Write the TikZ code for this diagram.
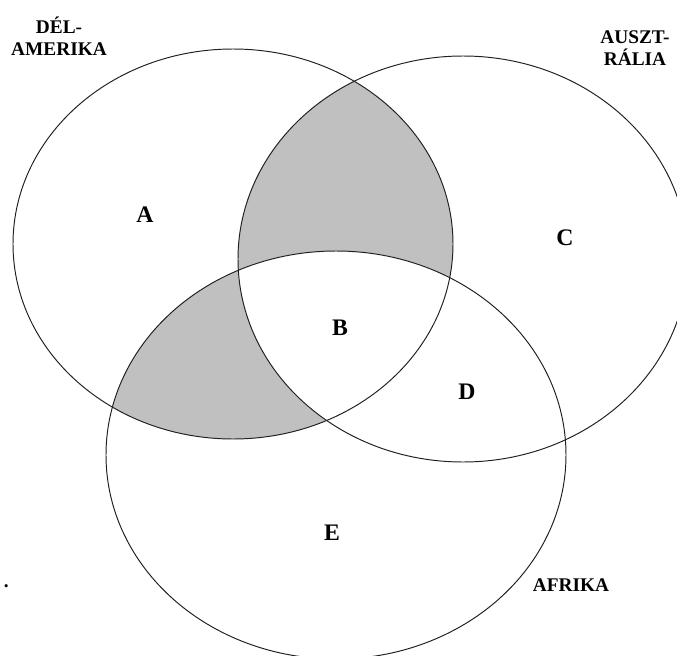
\documentclass[tikz,border=0pt]{standalone}
\usepackage{fontspec}
\setmainfont{Liberation Serif}
\definecolor{greyfill}{HTML}{C0C0C0}
\definecolor{edge}{HTML}{202020}
\tikzset{
  region/.style={font=\bfseries\fontsize{13.5}{13.5}\selectfont, inner sep=1pt},
  cont/.style={font=\bfseries\fontsize{11}{12.5}\selectfont, align=center, inner sep=0pt},
  outline/.style={draw=edge, line width=0.55pt}
}
\begin{document}
\begin{tikzpicture}[x=0.02cm, y=-0.02cm]
\useasboundingbox (0,0) rectangle (677,656);
\fill[white] (0,0) rectangle (677,656);
% shaded: SA & AU minus AF
\begin{scope}
  \clip (233,244) ellipse [x radius=220, y radius=195];
  \fill[greyfill] (463,259) ellipse [x radius=225, y radius=203];
\end{scope}
% shaded: SA & AF minus AU
\begin{scope}
  \clip (233,244) ellipse [x radius=220, y radius=195];
  \fill[greyfill] (336,455) ellipse [x radius=230, y radius=204];
\end{scope}
% triple intersection white
\begin{scope}
  \clip (233,244) ellipse [x radius=220, y radius=195];
  \clip (463,259) ellipse [x radius=225, y radius=203];
  \fill[white] (336,455) ellipse [x radius=230, y radius=204];
\end{scope}
\draw[outline] (233,244) ellipse [x radius=220, y radius=195];
\draw[outline] (463,259) ellipse [x radius=225, y radius=203];
\draw[outline] (336,455) ellipse [x radius=230, y radius=204];

\node[cont] (sa) at (59,36) {DÉL-\\AMERIKA};
\node[cont] (au) at (635,48) {AUSZT-\\RÁLIA};
\node[cont] (af) at (571,585) {AFRIKA};
\node[cont, anchor=east] (dot) at (9,586) {.};

\node[region] (A) at (145,215) {A};
\node[region] (B) at (340,328) {B};
\node[region] (C) at (565,238) {C};
\node[region] (D) at (467,392) {D};
\node[region] (E) at (332,533) {E};
\end{tikzpicture}
\end{document}
